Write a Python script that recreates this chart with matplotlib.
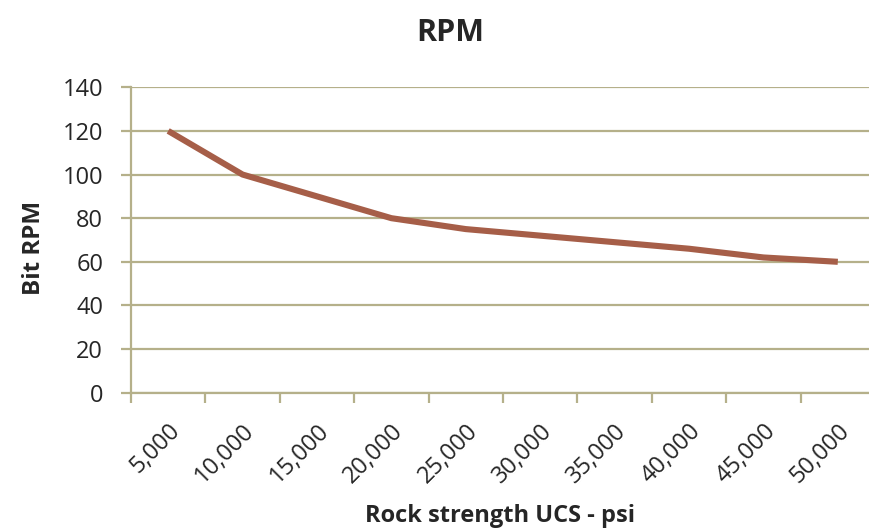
"""Bit RPM versus rock strength (UCS), Excel-style line chart."""

import matplotlib

matplotlib.use("Agg")
import matplotlib.pyplot as plt
from matplotlib.transforms import ScaledTranslation

plt.rcParams["font.family"] = ["Open Sans", "DejaVu Sans"]

UCS_LABELS = ["5,000", "10,000", "15,000", "20,000", "25,000",
              "30,000", "35,000", "40,000", "45,000", "50,000"]
BIT_RPM = [120, 100, 90, 80, 75, 72, 69, 66, 62, 60]
Y_TICKS = [0, 20, 40, 60, 80, 100, 120, 140]

GRID_COLOR = "#b5b08a"
LINE_COLOR = "#a65e48"
TEXT_COLOR = "#262626"

W, H = 870, 529
fig = plt.figure(figsize=(W / 100, H / 100), dpi=100)
ax = fig.add_axes([131 / W, 1 - 392.7 / H, 744 / W, 305.4 / H])

x = list(range(len(UCS_LABELS)))
ax.plot(x, BIT_RPM, color=LINE_COLOR, linewidth=4.4, solid_capstyle="butt",
        solid_joinstyle="round", zorder=3)

ax.set_xlim(-0.5, len(UCS_LABELS) - 0.5)
ax.set_ylim(0, 140)
ax.set_yticks(Y_TICKS)
ax.yaxis.grid(True, color=GRID_COLOR, linewidth=1.6)
ax.set_axisbelow(True)

# category ticks sit between categories, labels at the centres
ax.set_xticks([i - 0.5 for i in range(len(UCS_LABELS) + 1)])
ax.set_xticklabels([])
ax.set_xticks(x, minor=True)
ax.set_xticklabels(UCS_LABELS, minor=True, rotation=45, ha="right", va="top",
                   rotation_mode="anchor", fontsize=17, color=TEXT_COLOR)
shift = ScaledTranslation(5 / 100, 0, fig.dpi_scale_trans)
for lab in ax.get_xticklabels(minor=True):
    lab.set_transform(lab.get_transform() + shift)
ax.tick_params(axis="x", which="minor", length=0, pad=19)
ax.tick_params(axis="x", which="major", length=7, width=1.6, color=GRID_COLOR)
ax.tick_params(axis="y", length=7, width=1.6, color=GRID_COLOR, pad=13,
               labelsize=17, labelcolor=TEXT_COLOR)

for side in ("top", "right"):
    ax.spines[side].set_visible(False)
for side in ("left", "bottom"):
    ax.spines[side].set_color(GRID_COLOR)
    ax.spines[side].set_linewidth(1.6)

fig.text(34 / W, 1 - 248 / H, "Bit RPM", fontsize=17.5, fontweight="bold",
         color=TEXT_COLOR, ha="center", va="center", rotation=90)
fig.text(450 / W, 1 - 33 / H, "RPM", fontsize=22, fontweight="bold",
         color=TEXT_COLOR, ha="center", va="center")
fig.text(500 / W, 1 - 516 / H, "Rock strength UCS - psi", fontsize=17,
         fontweight="bold", color=TEXT_COLOR, ha="center", va="center")

fig.savefig("out.png", dpi=100)
